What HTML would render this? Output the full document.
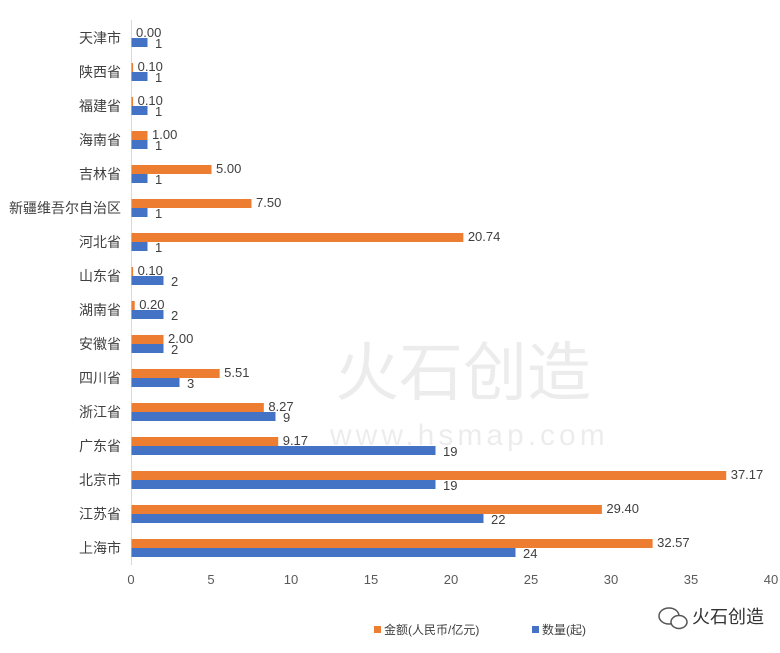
<!DOCTYPE html>
<html><head><meta charset="utf-8"><style>
body{margin:0;background:#fff;font-family:"Liberation Sans","Noto Sans CJK SC",sans-serif;}
svg text{font-family:"Liberation Sans","Noto Sans CJK SC",sans-serif;}
</style></head><body>
<svg id="c" width="780" height="648" xmlns="http://www.w3.org/2000/svg">
<g opacity="0.07">
<text x="335" y="395" font-size="64" fill="#000">火石创造</text>
<text x="330" y="445" font-size="30" fill="#000" letter-spacing="4">www.hsmap.com</text>
</g>
<line x1="131.5" y1="20" x2="131.5" y2="565" stroke="#d9d9d9"/>
<g id="bars"></g>
<g>
<rect x="374" y="626" width="7" height="7" fill="#ed7d31"/>
<text x="384" y="634" font-size="12" fill="#404040">金额(人民币/亿元)</text>
<rect x="532" y="626" width="7" height="7" fill="#4472c4"/>
<text x="542" y="634" font-size="12" fill="#404040">数量(起)</text>
</g>
<g>
<ellipse cx="669" cy="616" rx="10" ry="8" fill="none" stroke="#555" stroke-width="1.5"/>
<ellipse cx="679" cy="622" rx="8" ry="6.5" fill="#fff" stroke="#555" stroke-width="1.5"/>
<text x="692" y="623" font-size="18" fill="#333">火石创造</text>
</g>
</svg>
<script>
const categories=["天津市","陕西省","福建省","海南省","吉林省","新疆维吾尔自治区","河北省","山东省","湖南省","安徽省","四川省","浙江省","广东省","北京市","江苏省","上海市"];
const amounts=[0.00,0.10,0.10,1.00,5.00,7.50,20.74,0.10,0.20,2.00,5.51,8.27,9.17,37.17,29.40,32.57];
const counts=[1,1,1,1,1,1,1,2,2,2,3,9,19,19,22,24];
const amountLabels=["0.00","0.10","0.10","1.00","5.00","7.50","20.74","0.10","0.20","2.00","5.51","8.27","9.17","37.17","29.40","32.57"];
const ticks=[0,5,10,15,20,25,30,35,40];
const NS="http://www.w3.org/2000/svg";
const x=v=>131+v*16;
const y=i=>38+i*34;
const g=document.getElementById('bars');
function mk(t,a,p){const e=document.createElementNS(NS,t);for(const k in a)e.setAttribute(k,a[k]);(p||g).appendChild(e);return e;}
categories.forEach((c,i)=>{
 const cy=y(i);
 const lab=mk('text',{x:121,y:cy+5,'font-size':14,fill:'#404040','text-anchor':'end'});lab.textContent=c;
 
 
 const r1=mk('rect',{x:131.5,y:cy-9,width:Math.max(amounts[i]*16,0),height:9,fill:'#ed7d31'});
 
 
 const r2=mk('rect',{x:131.5,y:cy,width:counts[i]*16,height:9,fill:'#4472c4'});
 
 
 const t1=mk('text',{x:x(amounts[i])+5,y:cy-1,'font-size':13,fill:'#404040'});t1.textContent=amountLabels[i];
 
 
 const t2=mk('text',{x:x(counts[i])+8,y:cy+10,'font-size':13,fill:'#404040'});t2.textContent=counts[i];
 
 
});
ticks.forEach(t=>{
 const e=mk('text',{x:x(t),y:584,'font-size':13,fill:'#595959','text-anchor':'middle'});e.textContent=t;
 
 
});
</script>
</body></html>
